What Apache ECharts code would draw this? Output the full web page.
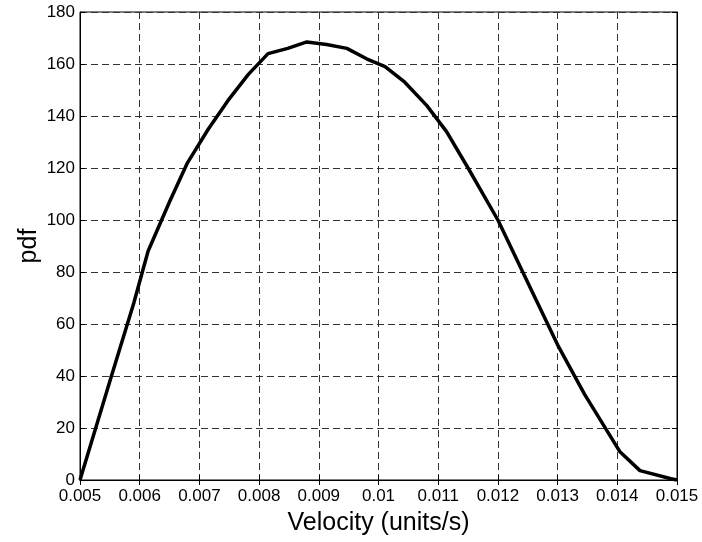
<!DOCTYPE html>
<html>
<head>
<meta charset="utf-8">
<script src="https://cdn.jsdelivr.net/npm/echarts@6/dist/echarts.min.js"></script>
<style>
html,body{margin:0;padding:0;background:#fff;}
#chart{width:702px;height:542px;}
</style>
</head>
<body>
<div id="chart"></div>
<script>
// Data
var velocity = [0.005, 0.0055, 0.0059, 0.00614, 0.0065, 0.0068, 0.00715, 0.00748, 0.00782, 0.00815, 0.00848, 0.0088, 0.00913, 0.00947, 0.0098, 0.01011, 0.01044, 0.01081, 0.01114, 0.0115, 0.012, 0.0125, 0.013, 0.01345, 0.01404, 0.01438, 0.0149, 0.015];
var pdf = [0, 38, 68, 88, 107, 122, 135, 146, 156, 164, 166, 168.5, 167.5, 166, 162, 159, 153, 144, 134, 120, 100, 76, 52, 33, 11, 3.6, 0.5, 0];
var xTickLabels = ['0.005','0.006','0.007','0.008','0.009','0.01','0.011','0.012','0.013','0.014','0.015'];
var yTickLabels = ['0','20','40','60','80','100','120','140','160','180'];
var xTitle = 'Velocity (units/s)';
var yTitle = 'pdf';

var FONT = '"Liberation Sans", Arial, sans-serif';
var points = velocity.map(function (v, i) { return [v, pdf[i]]; });

function xFmt(v) {
  var idx = Math.round((v - 0.005) / 0.001);
  return xTickLabels[idx] !== undefined ? xTickLabels[idx] : '';
}
function yFmt(v) {
  var idx = Math.round(v / 20);
  return yTickLabels[idx] !== undefined ? yTickLabels[idx] : '';
}

var chart = echarts.init(document.getElementById('chart'), null, {renderer: 'canvas'});
var gridLine = {show: true, lineStyle: {color: '#333', width: 1, type: [7, 4]}};
chart.setOption({
  animation: false,
  backgroundColor: '#fff',
  grid: {left: 80, top: 12, right: 25, bottom: 62, containLabel: false,
         show: true, borderColor: '#000', borderWidth: 1, backgroundColor: 'transparent'},
  xAxis: [{
    type: 'value', min: 0.005, max: 0.015, interval: 0.001,
    name: xTitle, nameLocation: 'middle', nameGap: 31, nameMoveOverlap: false,
    nameTextStyle: {fontFamily: FONT, fontSize: 25, color: '#000'},
    axisLine: {show: true, lineStyle: {color: '#000', width: 1}},
    axisTick: {show: true, inside: true, length: 5, lineStyle: {color: '#000'}},
    axisLabel: {formatter: xFmt, fontFamily: FONT, fontSize: 17, color: '#000', margin: 8},
    splitLine: gridLine
  }, {
    type: 'value', min: 0.005, max: 0.015, interval: 0.001, position: 'top',
    axisLine: {show: true, lineStyle: {color: '#000', width: 1}},
    axisTick: {show: true, inside: true, length: 5, lineStyle: {color: '#000'}},
    axisLabel: {show: false}, splitLine: {show: false}
  }],
  yAxis: [{
    type: 'value', min: 0, max: 180, interval: 20,
    name: yTitle, nameLocation: 'middle', nameGap: 38, nameRotate: 90, nameMoveOverlap: false,
    nameTextStyle: {fontFamily: FONT, fontSize: 25, color: '#000'},
    axisLine: {show: true, lineStyle: {color: '#000', width: 1}},
    axisTick: {show: true, inside: true, length: 5, lineStyle: {color: '#000'}},
    axisLabel: {formatter: yFmt, fontFamily: FONT, fontSize: 17, color: '#000', margin: 5},
    splitLine: gridLine
  }, {
    type: 'value', min: 0, max: 180, interval: 20, position: 'right',
    axisLine: {show: true, lineStyle: {color: '#000', width: 1}},
    axisTick: {show: true, inside: true, length: 5, lineStyle: {color: '#000'}},
    axisLabel: {show: false}, splitLine: {show: false}
  }],
  series: [{
    type: 'line', data: points, showSymbol: false, symbol: 'none',
    xAxisIndex: 0, yAxisIndex: 0,
    lineStyle: {color: '#000', width: 3.5, join: 'round'},
    smooth: false, clip: false
  }]
});
</script>
</body>
</html>
